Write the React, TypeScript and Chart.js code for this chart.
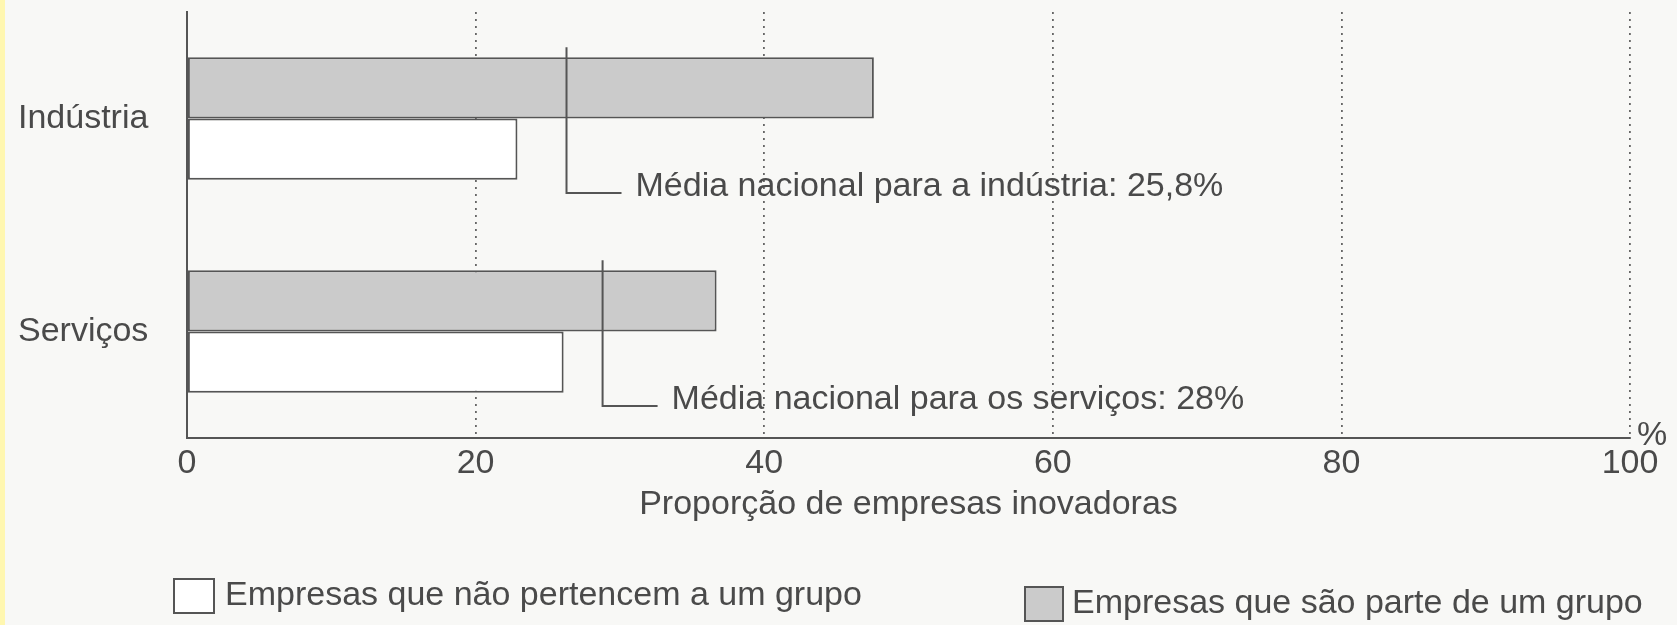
import React, { useEffect, useRef } from "react";
import { Chart, registerables } from "chart.js";

Chart.register(...registerables);

// ---- data ----
const categories = ["Indústria", "Serviços"];
const groupSeries = [47.6, 36.7]; // Empresas que são parte de um grupo
const nonGroupSeries = [22.9, 26.1]; // Empresas que não pertencem a um grupo
const nationalAverageDrawn = [26.3, 28.8]; // where the reference lines are drawn
const nationalAverageLabels = [
  "Média nacional para a indústria: 25,8%",
  "Média nacional para os serviços: 28%",
];
const xTicks = [0, 20, 40, 60, 80, 100];
const seriesLabels = [
  "Empresas que são parte de um grupo",
  "Empresas que não pertencem a um grupo",
];
const axisTitle = "Proporção de empresas inovadoras";
const unitLabel = "%";

const FONT = '"Liberation Sans", Arial, Helvetica, sans-serif';
const TEXT = "#4a4a4a";
const LINE = "#555555";
const GRAY = "#cbcbcb";

const overlayPlugin = {
  id: "overlay",
  afterDraw(chart: any) {
    const { ctx, scales } = chart;
    const xs = scales.x;
    const ys = scales.y;
    ctx.save();
    ctx.font = `34px ${FONT}`;
    ctx.fillStyle = TEXT;
    ctx.strokeStyle = LINE;
    ctx.lineWidth = 2;

    const band = ys.getPixelForValue(1) - ys.getPixelForValue(0);
    nationalAverageDrawn.forEach((v, i) => {
      const x = xs.getPixelForValue(v);
      const c = ys.getPixelForValue(i);
      const top = c - band * 0.335;
      const bottom = c + band * 0.35;
      ctx.beginPath();
      ctx.moveTo(x, top);
      ctx.lineTo(x, bottom);
      ctx.lineTo(x + 55, bottom);
      ctx.stroke();
      ctx.textAlign = "left";
      ctx.textBaseline = "middle";
      ctx.fillText(nationalAverageLabels[i], x + 69, bottom - 6);
    });

    // unit label at the end of the x axis
    ctx.textAlign = "left";
    ctx.textBaseline = "middle";
    ctx.fillText(unitLabel, xs.right + 7, xs.top - 2);

    // legend
    const items = [
      { label: seriesLabels[1], fill: "#ffffff", bx: 174, by: 579, w: 40, h: 34, tx: 225 },
      { label: seriesLabels[0], fill: GRAY, bx: 1025, by: 587, w: 38, h: 34, tx: 1072 },
    ];
    items.forEach((it) => {
      ctx.fillStyle = it.fill;
      ctx.fillRect(it.bx, it.by, it.w, it.h);
      ctx.strokeStyle = LINE;
      ctx.lineWidth = 2;
      ctx.strokeRect(it.bx, it.by, it.w, it.h);
      ctx.fillStyle = TEXT;
      ctx.textAlign = "left";
      ctx.textBaseline = "middle";
      ctx.fillText(it.label, it.tx, it.by + it.h / 2);
    });
    ctx.restore();
  },
};

const axisLinePlugin = {
  id: "axisLine",
  beforeDatasetsDraw(chart: any) {
    const { ctx, chartArea } = chart;
    ctx.save();
    ctx.strokeStyle = LINE;
    ctx.lineWidth = 2;
    ctx.beginPath();
    ctx.moveTo(chartArea.left, chartArea.bottom);
    ctx.lineTo(chartArea.right, chartArea.bottom);
    ctx.stroke();
    ctx.restore();
  },
};

export default function App() {
  const canvasRef = useRef<HTMLCanvasElement | null>(null);

  useEffect(() => {
    if (!canvasRef.current) return;
    Chart.defaults.font.family = FONT;
    const chart = new Chart(canvasRef.current, {
      type: "bar",
      data: {
        labels: categories,
        datasets: [
          {
            label: seriesLabels[0],
            data: groupSeries,
            backgroundColor: GRAY,
            borderColor: LINE,
            borderWidth: 2,
            borderSkipped: false,
          },
          {
            label: seriesLabels[1],
            data: nonGroupSeries,
            backgroundColor: "#ffffff",
            borderColor: LINE,
            borderWidth: 2,
            borderSkipped: false,
          },
        ],
      },
      options: {
        indexAxis: "y",
        animation: false,
        responsive: false,
        devicePixelRatio: 1,
        datasets: {
          bar: { barPercentage: 1, categoryPercentage: 0.575 },
        },
        layout: { padding: { left: 18, right: 47, top: 12, bottom: 100 } },
        plugins: {
          legend: { display: false },
          tooltip: { enabled: false },
        },
        scales: {
          x: {
            min: 0,
            max: 100,
            afterBuildTicks: (s: any) => {
              s.ticks = xTicks.map((v) => ({ value: v }));
            },
            afterFit: (s: any) => {
              s.height = 87;
            },
            ticks: {
              color: TEXT,
              font: { size: 34, family: FONT },
              padding: 5,
              maxRotation: 0,
            },
            grid: {
              color: "#666666",
              lineWidth: 1.8,
              drawTicks: false,
            },
            border: { display: true, color: LINE, width: 2, dash: [2, 5] } as any,
            title: {
              display: true,
              text: axisTitle,
              color: TEXT,
              font: { size: 34, family: FONT },
              padding: { top: 0, bottom: 0 },
            },
          },
          y: {
            afterFit: (s: any) => {
              s.width = 169;
              s.paddingTop = 0;
              s.paddingBottom = 0;
            },
            ticks: {
              color: TEXT,
              font: { size: 34, family: FONT },
              crossAlign: "far",
            },
            grid: { display: false, drawTicks: false },
            border: { display: true, color: LINE, width: 2 },
          },
        },
      },
      plugins: [overlayPlugin, axisLinePlugin],
    });
    return () => chart.destroy();
  }, []);

  return (
    <div
      style={{
        position: "absolute",
        left: 0,
        top: 0,
        width: 1677,
        height: 625,
        background: "#f8f8f6",
        overflow: "hidden",
      }}
    >
      <div
        style={{
          position: "absolute",
          left: 0,
          top: 0,
          width: 5,
          height: 625,
          background: "#fff7b0",
        }}
      />
      <canvas
        ref={canvasRef}
        width={1677}
        height={625}
        style={{ position: "absolute", left: 0, top: 0 }}
      />
    </div>
  );
}
